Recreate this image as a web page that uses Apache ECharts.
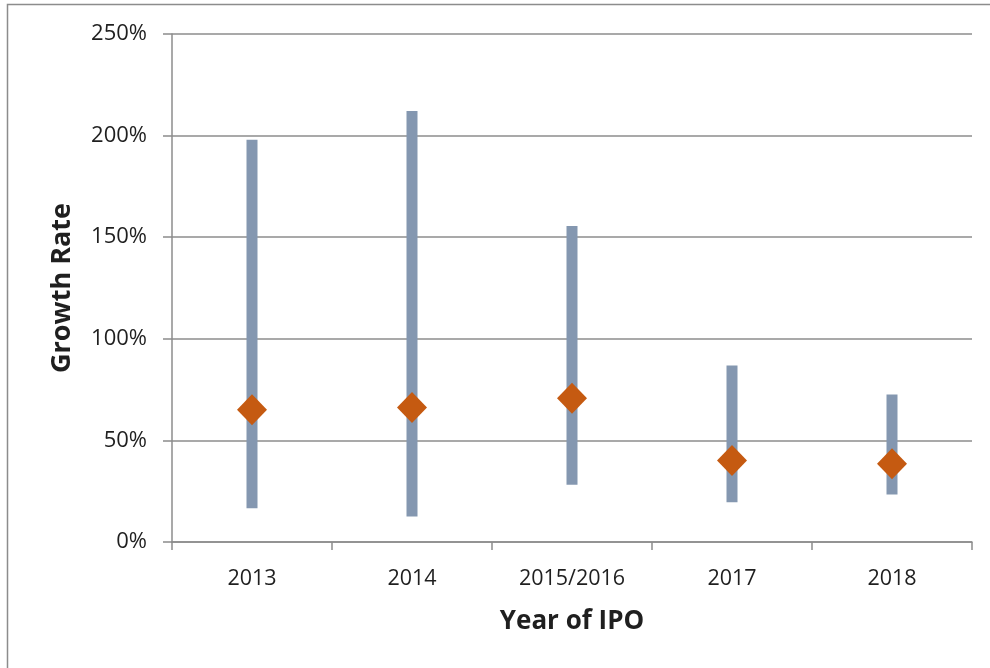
<!DOCTYPE html>
<html>
<head>
<meta charset="utf-8">
<script src="https://cdn.jsdelivr.net/npm/echarts@6/dist/echarts.min.js"></script>
<style>
  html, body { margin: 0; padding: 0; background: #fff; }
  #chart { width: 990px; height: 668px; }
</style>
</head>
<body>
<div id="chart"></div>
<script>
var years = ['2013', '2014', '2015/2016', '2017', '2018'];
var lows = [0.166, 0.126, 0.282, 0.196, 0.234];   // bottom of range
var highs = [1.98, 2.121, 1.555, 0.869, 0.726];   // top of range
var means = [0.651, 0.662, 0.707, 0.401, 0.385];  // diamond marker
var yTicks = [0, 0.5, 1, 1.5, 2, 2.5];

var rangeData = years.map(function (y, i) {
    return [i, lows[i], highs[i]];
});

var chart = echarts.init(document.getElementById('chart'));

var option = {
    animation: false,
    textStyle: { fontFamily: 'Open Sans' },
    graphic: [{
        type: 'rect',
        shape: { x: 7.5, y: 4.5, width: 1000, height: 700 },
        style: { fill: 'none', stroke: '#8c8c8c', lineWidth: 1.5 },
        silent: true
    }],
    grid: { left: 172, right: 18, top: 34, bottom: 126 },
    xAxis: {
        type: 'category',
        data: years,
        name: 'Year of IPO',
        nameLocation: 'middle',
        nameGap: 67,
        nameTextStyle: { fontSize: 26, fontWeight: 'bold', color: '#1f1f1f' },
        axisLine: { lineStyle: { color: '#8c8c8c', width: 1.5 } },
        axisTick: { show: true, alignWithLabel: false, length: 8, lineStyle: { color: '#8c8c8c', width: 1.5 } },
        axisLabel: { fontSize: 21.5, color: '#1f1f1f', margin: 26 }
    },
    yAxis: {
        type: 'value',
        min: yTicks[0],
        max: yTicks[yTicks.length - 1],
        interval: 0.5,
        name: 'Growth Rate',
        nameLocation: 'middle',
        nameGap: 96,
        nameTextStyle: { fontSize: 27, fontWeight: 'bold', color: '#1f1f1f' },
        axisLine: { show: true, lineStyle: { color: '#8c8c8c', width: 1.5 } },
        axisTick: { show: true, length: 9, lineStyle: { color: '#8c8c8c', width: 1.5 } },
        splitLine: { lineStyle: { color: '#8c8c8c', width: 1.5 } },
        axisLabel: {
            fontSize: 22,
            color: '#1f1f1f',
            margin: 25,
            formatter: function (v) { return Math.round(v * 100) + '%'; }
        }
    },
    series: [{
        type: 'custom',
        data: rangeData,
        encode: { x: 0, y: [1, 2] },
        renderItem: function (params, api) {
            var lo = api.coord([api.value(0), api.value(1)]);
            var hi = api.coord([api.value(0), api.value(2)]);
            var w = 11;
            return {
                type: 'rect',
                shape: { x: lo[0] - w / 2, y: hi[1], width: w, height: lo[1] - hi[1] },
                style: { fill: '#8497b0' }
            };
        }
    }, {
        type: 'scatter',
        data: means,
        symbol: 'diamond',
        symbolSize: [30, 31],
        itemStyle: { color: '#c55a11', opacity: 1 },
        z: 5
    }]
};

chart.setOption(option);
</script>
</body>
</html>
